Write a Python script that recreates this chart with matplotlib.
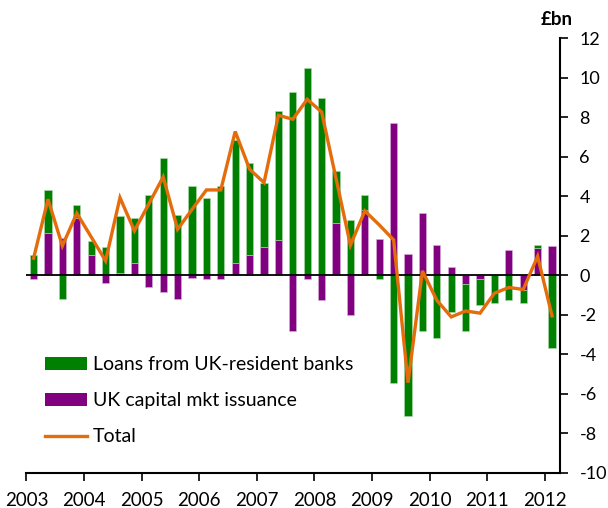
import matplotlib
matplotlib.use("Agg")
import matplotlib.pyplot as plt
import numpy as np
from matplotlib.patches import Patch
from matplotlib.lines import Line2D

plt.rcParams['font.family'] = ['Lato', 'DejaVu Sans']

years = ['2003', '2004', '2005', '2006', '2007', '2008', '2009', '2010', '2011', '2012']

loans = [1.01, 2.14, -1.18, 0.62, 0.73, 1.43, 2.87, 2.28, 4.05, 5.93,
         3.06, 4.52, 3.90, 4.52, 6.23, 4.66, 3.23, 6.55, 9.28, 10.52,
         8.96, 2.61, 2.80, 0.74, -0.20, -5.44, -7.12, -2.82, -3.16, -1.84,
         -2.36, -1.32, -1.43, -1.27, -0.67, 0.12, -3.71]

capmkt = [-0.20, 2.16, 1.91, 2.92, 1.01, -0.37, 0.13, 0.61, -0.62, -0.84,
          -1.18, -0.12, -0.20, -0.20, 0.61, 1.01, 1.43, 1.77, -2.82, -0.20,
          -1.27, 2.67, -2.01, 3.31, 1.82, 7.73, 1.10, 3.14, 1.52, 0.42,
          -0.46, -0.20, 0.00, 1.27, -0.75, 1.40, 1.49]

total = [0.86, 3.85, 1.49, 3.14, 1.94, 0.73, 3.93, 2.25, 3.61, 4.98,
         2.33, 3.33, 4.32, 4.32, 7.28, 5.37, 4.69, 8.10, 7.90, 8.91,
         8.27, 4.90, 1.52, 3.26, 2.55, 1.79, -5.44, 0.22, -1.27, -2.11,
         -1.81, -1.92, -0.91, -0.62, -0.72, 0.96, -2.06]

GREEN = '#008000'
PURPLE = '#800080'
ORANGE = '#E46C0A'

fig = plt.figure(figsize=(6.08, 5.08), dpi=100)
ax = fig.add_axes([0.0434, 0.0695, 0.8776, 0.8551])

n = len(loans)
x = np.arange(n) + 0.5
cm = np.array(capmkt)
ln = np.array(loans)
# purple stacked first from zero
green_bottom = np.where(np.sign(ln) == np.sign(cm), cm, 0.0)

ax.bar(x, cm, width=0.5, color=PURPLE, edgecolor='#d9b3d9', linewidth=0.4, zorder=2)
ax.bar(x, ln, bottom=green_bottom, width=0.5, color=GREEN, edgecolor='#b3d9b3', linewidth=0.4, zorder=2)
ax.axhline(0, color='black', linewidth=1.3, zorder=2.5)
ax.plot(x, total, color=ORANGE, linewidth=2.4, zorder=3, solid_joinstyle='miter')

ax.set_xlim(0, 37.05)
ax.set_ylim(-10, 12)

ax.yaxis.tick_right()
ax.set_yticks(np.arange(-10, 13, 2))
ax.set_yticklabels([str(v) for v in range(-10, 13, 2)])
ax.set_xticks(np.arange(0, 37, 4))
ax.set_xticklabels(years)

for s in ['top', 'left']:
    ax.spines[s].set_visible(False)
ax.spines['right'].set_linewidth(1.5)
ax.spines['bottom'].set_linewidth(1.5)
ax.tick_params(axis='y', direction='out', length=6, width=1.2, labelsize=13, pad=8)
ax.tick_params(axis='x', direction='out', length=6, width=1.2, labelsize=13.5, pad=8)

fig.text(0.941, 0.961, '£bn', fontsize=13.5, fontweight='bold', ha='right', va='center')

handles = [Patch(facecolor=GREEN, edgecolor='none'),
           Patch(facecolor=PURPLE, edgecolor='none'),
           Line2D([0], [0], color=ORANGE, linewidth=2.4)]
labels = ['Loans from UK-resident banks', 'UK capital mkt issuance', 'Total']
ax.legend(handles, labels, loc='upper left', bbox_to_anchor=(0.035, 0.268),
          frameon=False, fontsize=14, handlelength=2.16, handleheight=0.67,
          labelspacing=0.98, borderpad=0, borderaxespad=0, handletextpad=0.28)

fig.savefig('out.png', dpi=100)
